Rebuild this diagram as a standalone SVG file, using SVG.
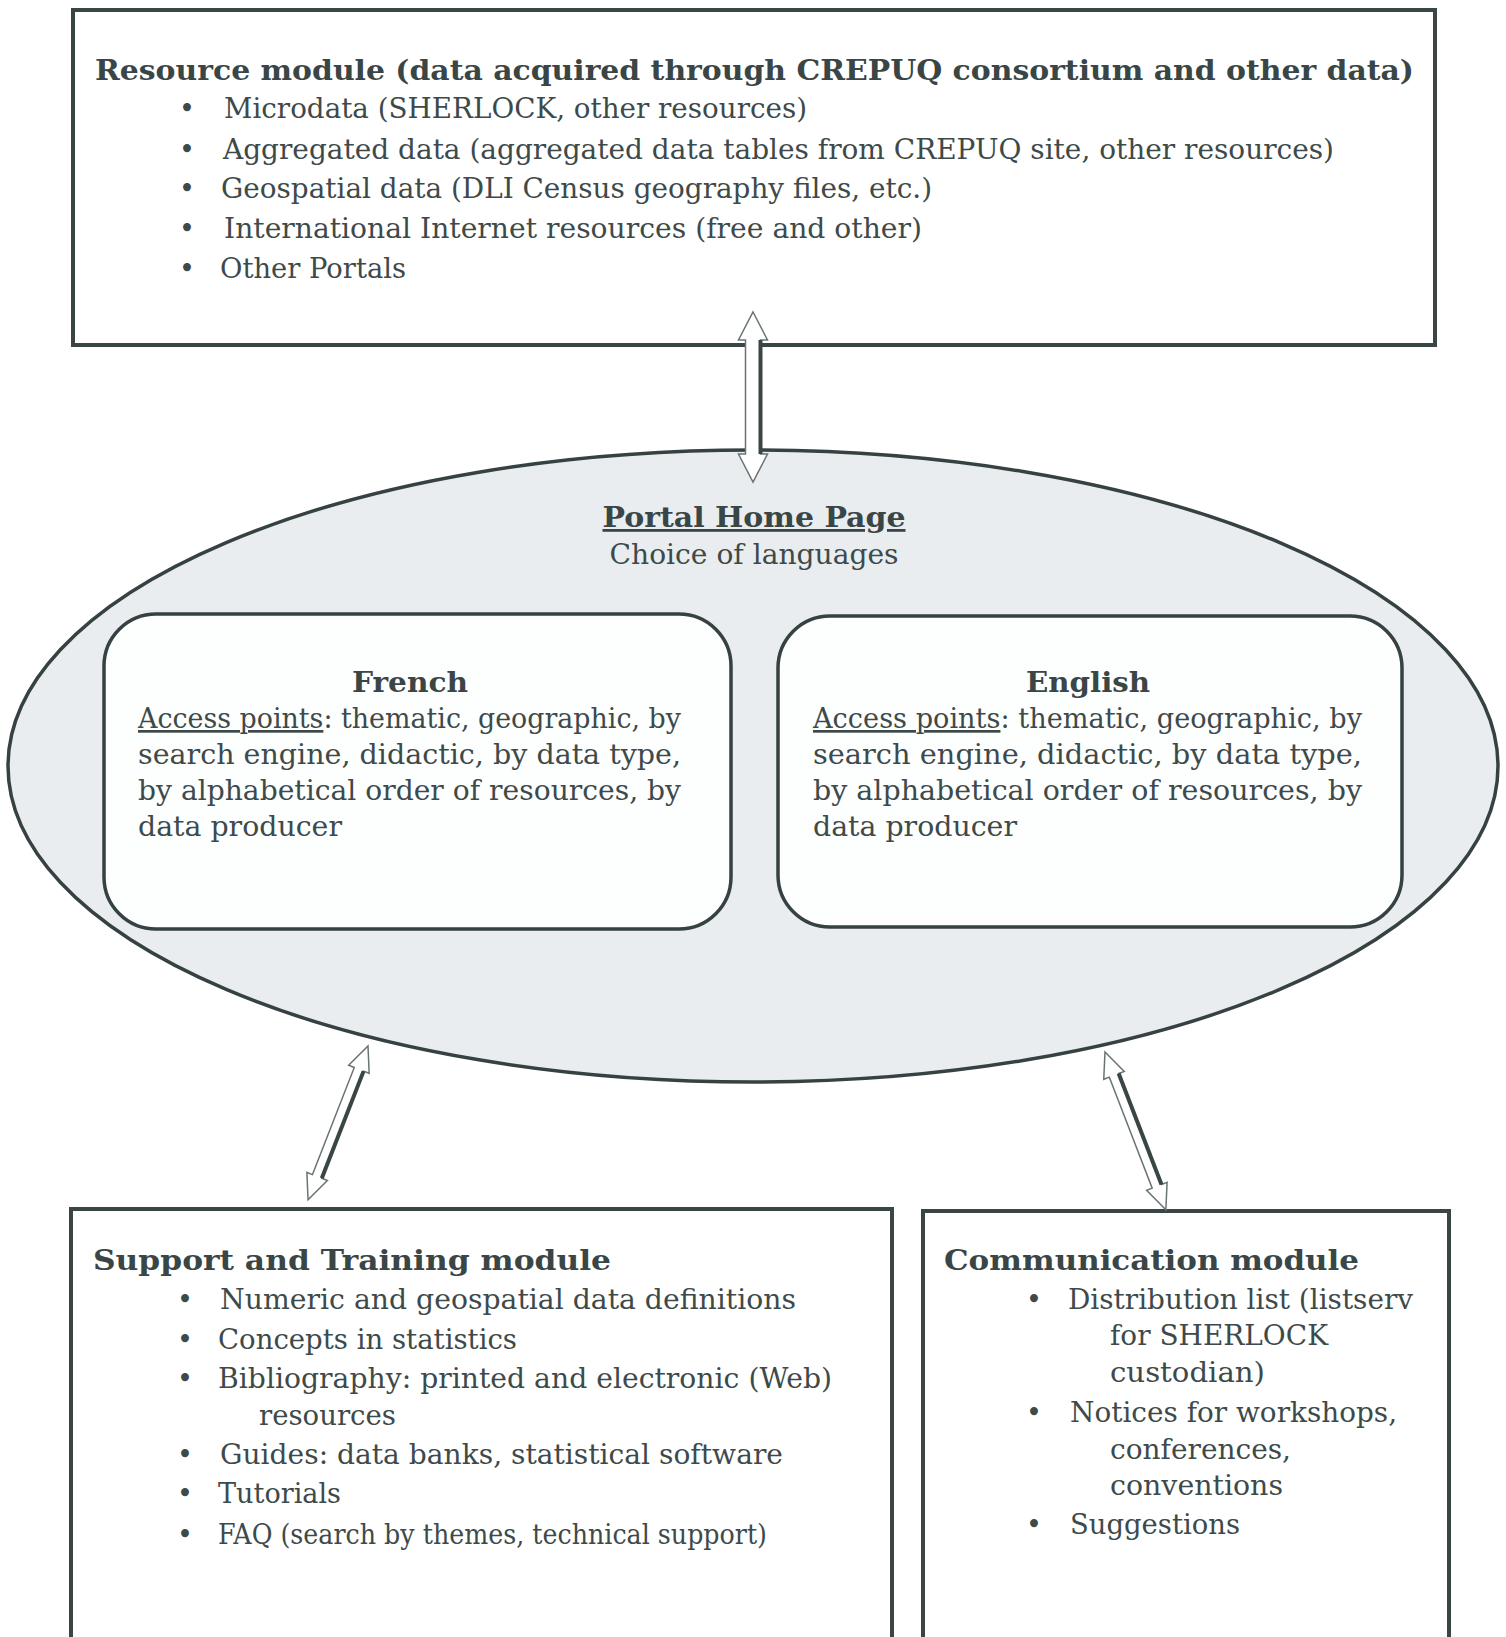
<svg xmlns="http://www.w3.org/2000/svg" width="1506" height="1637" viewBox="0 0 1506 1637">
<style>
  .t { font-family: "DejaVu Serif", "Liberation Serif", serif; font-size: 27px; fill: #3e4a4a; }
  .h { font-family: "DejaVu Serif", "Liberation Serif", serif; font-size: 28px; font-weight: bold; fill: #3a4646; }
  .box { fill: #ffffff; stroke: #3a4545; stroke-width: 4; }
  .rbox { fill: #fdfefe; stroke: #364242; stroke-width: 3.5; }
  .arr { fill: #ffffff; stroke: #6a7474; stroke-width: 1.5; stroke-linejoin: miter; }
  .sh { stroke: #3a4545; stroke-width: 4; fill: none; }
  .u { text-decoration: underline; }
</style>
<rect width="1506" height="1637" fill="#ffffff"/>

<g id="resource-module">
  <rect class="box" x="73" y="10" width="1362" height="335"/>
  <text class="h" x="95" y="80" textLength="1319" lengthAdjust="spacingAndGlyphs">Resource module (data acquired through CREPUQ consortium and other data)</text>
  <text class="t" x="179" y="118">•</text>
  <text class="t" x="224" y="118" textLength="583" lengthAdjust="spacingAndGlyphs">Microdata (SHERLOCK, other resources)</text>
  <text class="t" x="179" y="159">•</text>
  <text class="t" x="223" y="159" textLength="1111" lengthAdjust="spacingAndGlyphs">Aggregated data (aggregated data tables from CREPUQ site, other resources)</text>
  <text class="t" x="179" y="198">•</text>
  <text class="t" x="221" y="198" textLength="711" lengthAdjust="spacingAndGlyphs">Geospatial data (DLI Census geography files, etc.)</text>
  <text class="t" x="179" y="238">•</text>
  <text class="t" x="224" y="238" textLength="698" lengthAdjust="spacingAndGlyphs">International Internet resources (free and other)</text>
  <text class="t" x="179" y="278">•</text>
  <text class="t" x="220" y="278" textLength="186" lengthAdjust="spacingAndGlyphs">Other Portals</text>
</g>

<g id="portal-home-page">
  <ellipse cx="753" cy="766" rx="745" ry="316" fill="#e9edef" stroke="#364242" stroke-width="3.5"/>
  <text class="h u" x="754" y="527" text-anchor="middle" textLength="303" lengthAdjust="spacingAndGlyphs">Portal Home Page</text>
  <text class="t" x="754" y="564" text-anchor="middle" textLength="289" lengthAdjust="spacingAndGlyphs">Choice of languages</text>
</g>

<g id="french">
  <rect class="rbox" x="104" y="614" width="627" height="315" rx="52" ry="52"/>
  <text class="h" x="410" y="692" text-anchor="middle" textLength="116" lengthAdjust="spacingAndGlyphs">French</text>
  <text class="t" x="138" y="728" textLength="543" lengthAdjust="spacingAndGlyphs"><tspan class="u">Access points</tspan>: thematic, geographic, by</text>
  <text class="t" x="138" y="764" textLength="543" lengthAdjust="spacingAndGlyphs">search engine, didactic, by data type,</text>
  <text class="t" x="138" y="800" textLength="543" lengthAdjust="spacingAndGlyphs">by alphabetical order of resources, by</text>
  <text class="t" x="138" y="836" textLength="204" lengthAdjust="spacingAndGlyphs">data producer</text>
</g>

<g id="english">
  <rect class="rbox" x="778" y="616" width="624" height="311" rx="52" ry="52"/>
  <text class="h" x="1088" y="692" text-anchor="middle" textLength="124" lengthAdjust="spacingAndGlyphs">English</text>
  <text class="t" x="813" y="728" textLength="549" lengthAdjust="spacingAndGlyphs"><tspan class="u">Access points</tspan>: thematic, geographic, by</text>
  <text class="t" x="813" y="764" textLength="549" lengthAdjust="spacingAndGlyphs">search engine, didactic, by data type,</text>
  <text class="t" x="813" y="800" textLength="549" lengthAdjust="spacingAndGlyphs">by alphabetical order of resources, by</text>
  <text class="t" x="813" y="836" textLength="204" lengthAdjust="spacingAndGlyphs">data producer</text>
</g>

<g id="support-training-module">
  <rect class="box" x="71" y="1209" width="821" height="460"/>
  <text class="h" x="93" y="1270" textLength="518" lengthAdjust="spacingAndGlyphs">Support and Training module</text>
  <text class="t" x="177" y="1309">•</text>
  <text class="t" x="220" y="1309" textLength="576" lengthAdjust="spacingAndGlyphs">Numeric and geospatial data definitions</text>
  <text class="t" x="177" y="1349">•</text>
  <text class="t" x="218" y="1349" textLength="299" lengthAdjust="spacingAndGlyphs">Concepts in statistics</text>
  <text class="t" x="177" y="1388">•</text>
  <text class="t" x="218" y="1388" textLength="614" lengthAdjust="spacingAndGlyphs">Bibliography: printed and electronic (Web)</text>
  <text class="t" x="259" y="1425" textLength="137" lengthAdjust="spacingAndGlyphs">resources</text>
  <text class="t" x="177" y="1464">•</text>
  <text class="t" x="220" y="1464" textLength="563" lengthAdjust="spacingAndGlyphs">Guides: data banks, statistical software</text>
  <text class="t" x="177" y="1503">•</text>
  <text class="t" x="218" y="1503" textLength="123" lengthAdjust="spacingAndGlyphs">Tutorials</text>
  <text class="t" x="177" y="1544">•</text>
  <text class="t" x="218" y="1544" textLength="549" lengthAdjust="spacingAndGlyphs">FAQ (search by themes, technical support)</text>
</g>

<g id="communication-module">
  <rect class="box" x="923" y="1211" width="526" height="460"/>
  <text class="h" x="944" y="1270" textLength="415" lengthAdjust="spacingAndGlyphs">Communication module</text>
  <text class="t" x="1026" y="1309">•</text>
  <text class="t" x="1068" y="1309" textLength="345" lengthAdjust="spacingAndGlyphs">Distribution list (listserv</text>
  <text class="t" x="1110" y="1345" textLength="218" lengthAdjust="spacingAndGlyphs">for SHERLOCK</text>
  <text class="t" x="1110" y="1382" textLength="155" lengthAdjust="spacingAndGlyphs">custodian)</text>
  <text class="t" x="1026" y="1422">•</text>
  <text class="t" x="1070" y="1422" textLength="327" lengthAdjust="spacingAndGlyphs">Notices for workshops,</text>
  <text class="t" x="1110" y="1459" textLength="181" lengthAdjust="spacingAndGlyphs">conferences,</text>
  <text class="t" x="1110" y="1495" textLength="173" lengthAdjust="spacingAndGlyphs">conventions</text>
  <text class="t" x="1026" y="1534">•</text>
  <text class="t" x="1070" y="1534" textLength="170" lengthAdjust="spacingAndGlyphs">Suggestions</text>
</g>

<g id="connectors">
  <g transform="translate(753,312)">
    <polygon class="arr" points="0,0 14.5,28 7.5,28 7.5,142 14.5,142 0,170 -14.5,142 -7.5,142 -7.5,28 -14.5,28"/>
    <line class="sh" x1="7.5" y1="28" x2="7.5" y2="142"/>
  </g>
  <g transform="translate(368,1046) rotate(21.3)">
    <polygon class="arr" points="0,0 11,25 5,25 5,140 11,140 0,165 -11,140 -5,140 -5,25 -11,25"/>
    <line class="sh" x1="5" y1="25" x2="5" y2="140"/>
  </g>
  <g transform="translate(1105,1052) rotate(-21.1)">
    <polygon class="arr" points="0,0 11,25 5,25 5,144 11,144 0,169 -11,144 -5,144 -5,25 -11,25"/>
    <line class="sh" x1="5" y1="25" x2="5" y2="144"/>
  </g>
</g>
</svg>
